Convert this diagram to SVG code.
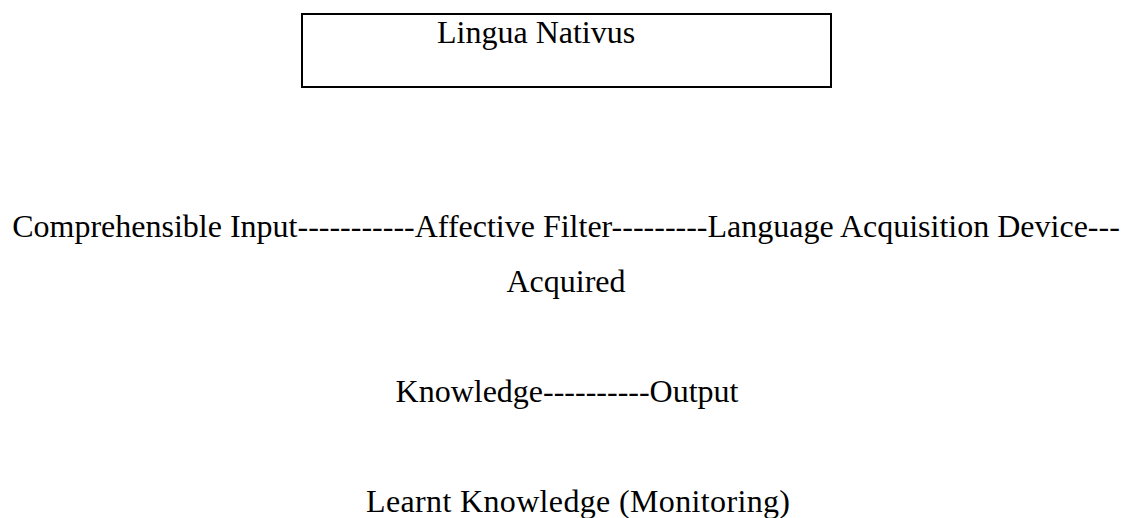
<svg xmlns="http://www.w3.org/2000/svg" width="1123" height="518" viewBox="0 0 1123 518">
<style>
  .t { font-family: "Liberation Serif", "Times New Roman", serif; font-size: 32px; fill: #000; }
  .box { fill: #fff; stroke: #000; stroke-width: 2; }
</style>
<rect x="0" y="0" width="1123" height="518" fill="#fff"/>
<g id="node-lingua-nativus">
  <rect class="box" x="302" y="14" width="529" height="73"/>
  <text class="t" x="437" y="43">Lingua Nativus</text>
</g>
<g id="node-acquisition">
  <text class="t" x="566" y="237" text-anchor="middle">Comprehensible Input-----------Affective Filter---------Language Acquisition Device---</text>
  <text class="t" x="566" y="292" text-anchor="middle">Acquired</text>
</g>
<g id="node-knowledge">
  <text class="t" x="567" y="402" text-anchor="middle">Knowledge----------Output</text>
</g>
<g id="node-learnt">
  <text class="t" x="366" y="512" textLength="424">Learnt Knowledge (Monitoring)</text>
</g>
<g id="connectors"></g>
</svg>
